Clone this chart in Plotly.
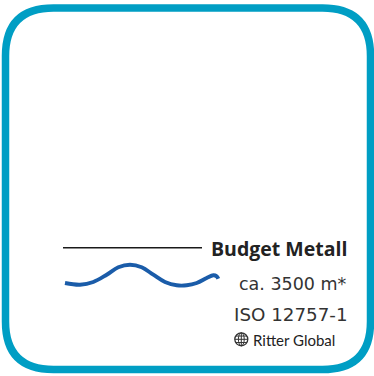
import plotly.graph_objects as go

# Wave decoration (pixel coords)
wave_x = [65, 80, 93.3, 106.7, 118.3, 130, 141.7, 153.3, 165, 176.7, 186.7, 196.7, 206.7, 213.3, 216.7, 218.3]
wave_y = [283, 284.7, 282, 274.7, 267.3, 264.7, 267.3, 274.7, 282, 285.3, 285.3, 283, 278, 275.3, 276.3, 278.7]

# Horizontal rule
rule_x = [63, 202]
rule_y = [247.7, 247.7]

# Texts
title = "Budget Metall"
length_label = "ca. 3500 m*"
standard_label = "ISO 12757-1"
brand_label = "Ritter Global"

W, H = 374, 376
fig = go.Figure()
fig.add_trace(go.Scatter(x=rule_x, y=rule_y, mode="lines",
                         line=dict(color="#1a1a1a", width=1.4), hoverinfo="skip"))
fig.add_trace(go.Scatter(x=wave_x, y=wave_y, mode="lines",
                         line=dict(color="#1a5ca9", width=3.9, shape="spline", smoothing=1.0),
                         hoverinfo="skip"))

# Rounded border
x0, y0, x1, y1, r = 5.5, 8, 370.5, 369.5, 48
path = (f"M {x0+r},{y0} L {x1-r},{y0} Q {x1},{y0} {x1},{y0+r} "
        f"L {x1},{y1-r} Q {x1},{y1} {x1-r},{y1} L {x0+r},{y1} "
        f"Q {x0},{y1} {x0},{y1-r} L {x0},{y0+r} Q {x0},{y0} {x0+r},{y0} Z")
shapes = [dict(type="path", path=path, xref="x", yref="y",
               line=dict(color="#009ec4", width=7.5))]

# Globe icon
gx, gy, gr = 241.3, 339.3, 6.5
gcol = "#333333"
shapes += [
    dict(type="circle", xref="x", yref="y", x0=gx-gr, x1=gx+gr, y0=gy-gr, y1=gy+gr,
         line=dict(color=gcol, width=1.3)),
    dict(type="circle", xref="x", yref="y", x0=gx-gr*0.45, x1=gx+gr*0.45, y0=gy-gr, y1=gy+gr,
         line=dict(color=gcol, width=1.0)),
    dict(type="line", xref="x", yref="y", x0=gx, x1=gx, y0=gy-gr, y1=gy+gr,
         line=dict(color=gcol, width=1.0)),
    dict(type="line", xref="x", yref="y", x0=gx-gr, x1=gx+gr, y0=gy, y1=gy,
         line=dict(color=gcol, width=1.0)),
    dict(type="line", xref="x", yref="y", x0=gx-gr*0.85, x1=gx+gr*0.85, y0=gy-gr*0.5, y1=gy-gr*0.5,
         line=dict(color=gcol, width=1.0)),
    dict(type="line", xref="x", yref="y", x0=gx-gr*0.85, x1=gx+gr*0.85, y0=gy+gr*0.5, y1=gy+gr*0.5,
         line=dict(color=gcol, width=1.0)),
]

ann = [
    dict(x=349, y=248.5, text=f"<b>{title}</b>", xanchor="right", yanchor="middle",
         font=dict(family="Open Sans", size=19.5, color="#222222")),
    dict(x=348.5, y=283.5, text=length_label, xanchor="right", yanchor="middle",
         font=dict(family="DejaVu Sans", size=17.5, color="#333333")),
    dict(x=350, y=314, text=standard_label, xanchor="right", yanchor="middle",
         font=dict(family="DejaVu Sans", size=18.3, color="#333333")),
    dict(x=251, y=340, text=brand_label, xanchor="left", yanchor="middle",
         font=dict(family="Lato", size=15, color="#222222")),
]
for a in ann:
    a.update(xref="x", yref="y", showarrow=False)

fig.update_layout(
    width=W, height=H, margin=dict(l=0, r=0, t=0, b=0),
    paper_bgcolor="white", plot_bgcolor="white", showlegend=False,
    xaxis=dict(range=[0, W], visible=False, fixedrange=True),
    yaxis=dict(range=[H, 0], visible=False, fixedrange=True),
    shapes=shapes, annotations=ann,
)
fig.write_html("out.html", config={"displayModeBar": False},
               post_script="document.body.style.margin='0';document.body.style.overflow='hidden';")
